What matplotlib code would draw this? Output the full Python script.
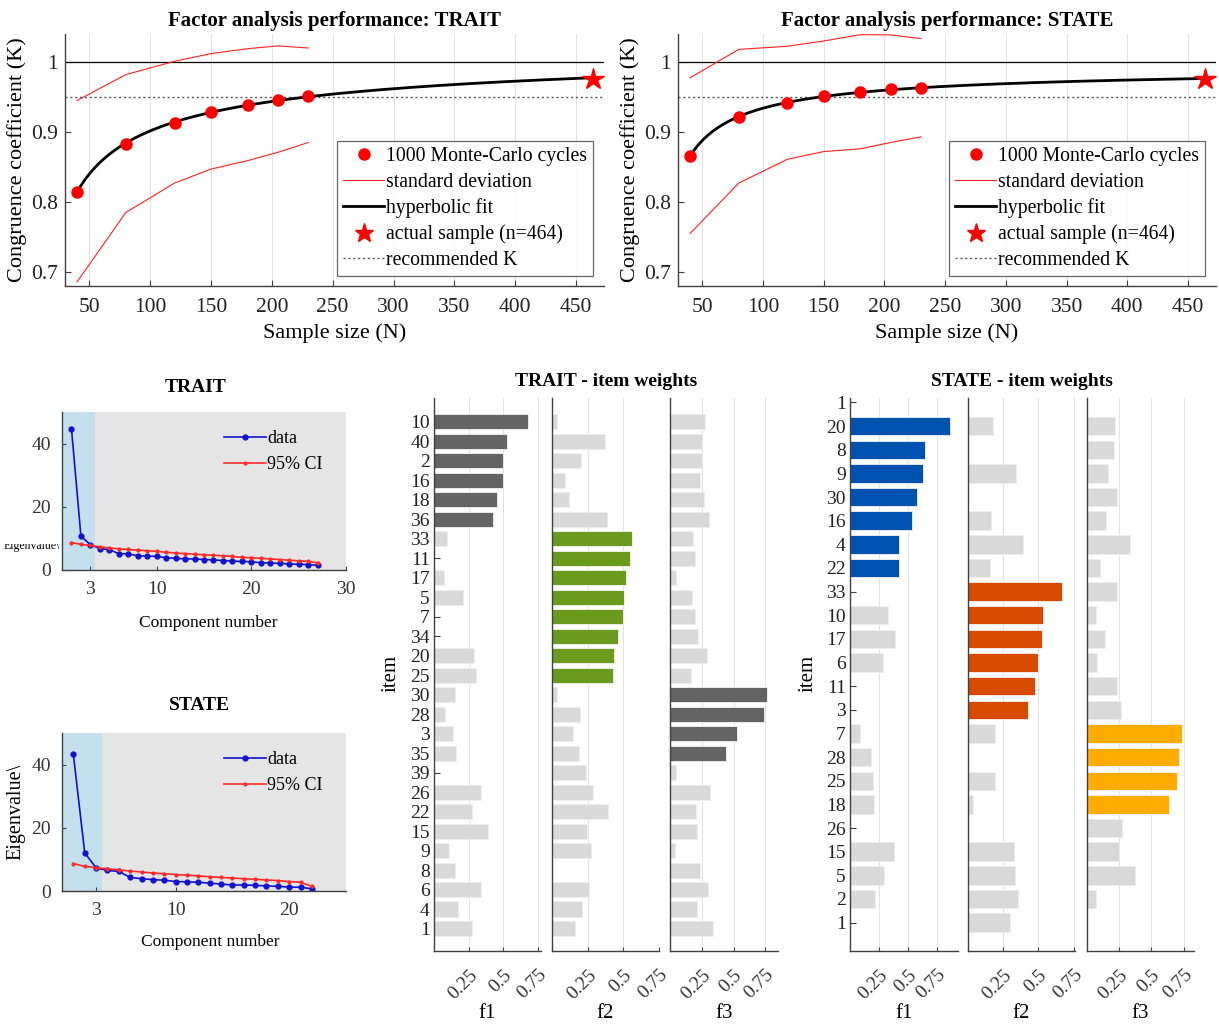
import numpy as np
import matplotlib
matplotlib.use('Agg')
import matplotlib.pyplot as plt
from matplotlib.lines import Line2D
from matplotlib.transforms import Bbox, TransformedBbox

plt.rcParams['font.family'] = ['Liberation Serif', 'DejaVu Serif']

# ---- Monte-Carlo performance data ----
mc_n = [40, 80, 120, 150, 180, 205, 230]
actual_n = 464

trait_k = [0.815, 0.883, 0.913, 0.929, 0.938, 0.946, 0.952]
trait_sd_hi = [0.945, 0.982, 1.001, 1.012, 1.019, 1.023, 1.020]
trait_sd_lo = [0.686, 0.785, 0.827, 0.847, 0.859, 0.871, 0.885]
trait_actual_k = 0.976

state_k = [0.866, 0.922, 0.941, 0.951, 0.9575, 0.961, 0.963]
state_sd_hi = [0.9775, 1.018, 1.0225, 1.030, 1.039, 1.0387, 1.0335]
state_sd_lo = [0.755, 0.827, 0.861, 0.872, 0.876, 0.885, 0.893]
state_actual_k = 0.976

recommended_k = 0.95

# ---- scree data ----
trait_eig = [44.7, 10.7, 8.0, 6.8, 6.4, 5.2, 5.1, 4.5, 4.4, 4.3, 3.9, 3.7, 3.5, 3.5,
             3.3, 3.2, 3.0, 2.8, 2.7, 2.6, 2.3, 2.2, 2.1, 1.9, 1.8, 1.7, 1.5]
trait_ci = [8.7, 8.1, 7.8, 7.3, 7.0, 6.7, 6.5, 6.3, 6.1, 5.9, 5.6, 5.4, 5.2, 5.0,
            4.8, 4.7, 4.5, 4.3, 4.0, 3.9, 3.7, 3.5, 3.3, 3.1, 2.9, 2.7, 2.3]
state_eig = [43.2, 12.1, 7.3, 6.5, 6.2, 4.3, 3.9, 3.6, 3.4, 3.0, 2.9, 2.75, 2.5, 2.2,
             1.9, 1.9, 1.8, 1.6, 1.5, 1.2, 1.2, 0.7]
state_ci = [8.7, 7.8, 7.4, 7.0, 6.7, 6.3, 6.0, 5.7, 5.5, 5.2, 5.0, 4.8, 4.5, 4.3,
            4.1, 3.9, 3.7, 3.5, 3.3, 3.0, 2.75, 1.5]

# ---- item weights ----
trait_items = ['10', '40', '2', '16', '18', '36', '33', '11', '17', '5', '7', '34', '20', '25',
               '30', '28', '3', '35', '39', '26', '22', '15', '9', '8', '6', '4', '1']
trait_f1 = [0.68, 0.524, 0.50, 0.50, 0.45, 0.425, 0.094, 0, 0.075, 0.21, 0, 0, 0.29, 0.30,
            0.15, 0.077, 0.135, 0.16, 0, 0.34, 0.27, 0.385, 0.11, 0.154, 0.34, 0.17, 0.275]
trait_f2 = [0.037, 0.37, 0.20, 0.092, 0.117, 0.383, 0.56, 0.545, 0.516, 0.506, 0.496, 0.465, 0.437, 0.43,
            0.035, 0.193, 0.148, 0.186, 0.236, 0.289, 0.391, 0.242, 0.27, 0, 0.256, 0.213, 0.162]
trait_f3 = [0.275, 0.25, 0.25, 0.235, 0.265, 0.307, 0.18, 0.2, 0.05, 0.177, 0.193, 0.217, 0.288, 0.167,
            0.762, 0.738, 0.526, 0.442, 0.048, 0.312, 0.206, 0.214, 0.037, 0.235, 0.30, 0.214, 0.336]
trait_factor = [1] * 6 + [2] * 8 + [3] * 4 + [0] * 9

state_items = ['20', '8', '9', '30', '16', '4', '22', '33', '10', '17', '6', '11', '3',
               '7', '28', '25', '18', '26', '15', '5', '2', '1']
state_f1 = [0.857, 0.645, 0.63, 0.58, 0.53, 0.424, 0.42, 0, 0.325, 0.39, 0.285, 0, 0,
            0.084, 0.177, 0.2, 0.21, 0, 0.38, 0.297, 0.215, 0]
state_f2 = [0.175, 0, 0.339, 0, 0.166, 0.39, 0.159, 0.67, 0.533, 0.526, 0.495, 0.474, 0.424,
            0.192, 0, 0.19, 0.033, 0, 0.33, 0.334, 0.355, 0.30]
state_f3 = [0.215, 0.207, 0.166, 0.236, 0.148, 0.332, 0.10, 0.233, 0.067, 0.14, 0.08, 0.236, 0.262,
            0.738, 0.71, 0.702, 0.635, 0.275, 0.249, 0.376, 0.07, 0]
state_factor = [1] * 7 + [2] * 6 + [3] * 4 + [0] * 5

W, H = 1219, 1025
fig = plt.figure(figsize=(W / 100, H / 100), dpi=100)
AX_COL = '#404040'
LIGHT = '#d9d9d9'


def px_axes(l, t, r, b):
    return fig.add_axes([l / W, 1 - b / H, (r - l) / W, (b - t) / H])


def fig_text(x, y, s, **kw):
    return fig.text(x / W, 1 - y / H, s, **kw)


def style_spines(ax):
    for s in ['top', 'right']:
        ax.spines[s].set_visible(False)
    for s in ['left', 'bottom']:
        ax.spines[s].set_color(AX_COL)
        ax.spines[s].set_linewidth(1.0)


def perf_panel(ax, k, hi, lo, k_act, title):
    n = np.array(mc_n, float)
    # hyperbolic-type fit through the simulated points and the actual sample
    xs = 1 / np.sqrt(np.append(n, actual_n))
    coef = np.polyfit(xs, np.append(k, k_act), 2)
    nn = np.linspace(mc_n[0], actual_n, 300)
    fit = np.polyval(coef, 1 / np.sqrt(nn))

    ax.axhline(1, color='k', lw=0.9)
    ax.axhline(recommended_k, color='#555555', lw=1.0, ls=(0, (1.5, 2)))
    ax.plot(n, hi, color='#ff2020', lw=0.8)
    ax.plot(n, lo, color='#ff2020', lw=0.8)
    ax.plot(nn, fit, color='k', lw=2)
    ax.plot(n, k, 'o', color='#ff0000', ms=8, ls='none')
    ax.plot([actual_n], [k_act], '*', color='#ff0000', ms=16, ls='none')

    ax.set_xlim(30, 473)
    ax.set_ylim(0.68, 1.04)
    ax.set_xticks(np.arange(50, 451, 50))
    ax.set_yticks([0.7, 0.8, 0.9, 1.0])
    ax.set_yticklabels(['0.7', '0.8', '0.9', '1'])
    ax.grid(axis='x', color='#e2e2e2', lw=0.8)
    ax.set_axisbelow(True)
    style_spines(ax)
    ax.tick_params(direction='in', labelsize=15.5, length=4, color=AX_COL, labelcolor='#222222')
    ax.tick_params(axis='x', pad=9)
    ax.tick_params(axis='y', pad=5)
    ax.set_title(title, fontsize=15, fontweight='bold', pad=6)
    ax.set_xlabel('Sample size (N)', fontsize=16, labelpad=4)
    ax.set_ylabel('Congruence coefficient (K)', fontsize=16, labelpad=3)

    handles = [
        Line2D([], [], marker='o', color='#ff0000', ls='none', ms=8),
        Line2D([], [], color='#ff2020', lw=0.8),
        Line2D([], [], color='k', lw=2),
        Line2D([], [], marker='*', color='#ff0000', ls='none', ms=14),
        Line2D([], [], color='#555555', lw=1.0, ls=(0, (1.5, 2))),
    ]
    labels = ['1000 Monte-Carlo cycles', 'standard deviation', 'hyperbolic fit',
              'actual sample (n=464)', 'recommended K']
    leg = ax.legend(handles, labels, loc='lower right', bbox_to_anchor=(0.98, 0.04),
                    fontsize=14.2, frameon=True, fancybox=False, edgecolor=AX_COL,
                    handlelength=2.1, handletextpad=0.1, labelspacing=0.33,
                    borderpad=0.3, borderaxespad=0)
    leg.get_frame().set_linewidth(0.9)


ax_tl = px_axes(65, 34, 604, 286)
perf_panel(ax_tl, trait_k, trait_sd_hi, trait_sd_lo, trait_actual_k,
           'Factor analysis performance: TRAIT')
ax_tr = px_axes(678, 34, 1216, 286)
perf_panel(ax_tr, state_k, state_sd_hi, state_sd_lo, state_actual_k,
           'Factor analysis performance: STATE')


def scree_panel(ax, eig, ci, xmax, xticks):
    comp = np.arange(1, len(eig) + 1)
    ax.set_facecolor('#e5e5e5')
    ax.axvspan(0, 3.5, color='#c4dfee', lw=0)
    ax.plot(comp, eig, '-o', color='#1212cc', ms=3.5, lw=1.2, label='data')
    ax.plot(comp, ci, '-o', color='#ff2a2a', ms=2, lw=1.2, label='95% CI')
    ax.set_xlim(0, xmax)
    ax.set_ylim(0, 50)
    ax.set_xticks(xticks)
    ax.set_yticks([0, 20, 40])
    style_spines(ax)
    ax.tick_params(direction='in', labelsize=14, length=3, color=AX_COL, labelcolor='#333333', pad=8)
    ax.legend(loc='upper left', bbox_to_anchor=(0.545, 0.93), frameon=False, fontsize=13,
              handlelength=2.3, handletextpad=0.1, labelspacing=0.5, borderaxespad=0)


ax_s1 = px_axes(62, 412, 346, 570)
scree_panel(ax_s1, trait_eig, trait_ci, 30, [3, 10, 20, 30])
ax_s2 = px_axes(62, 733, 346, 891)
scree_panel(ax_s2, state_eig, state_ci, 25, [3, 10, 20])
ax_s2.set_ylabel('Eigenvalue\\', fontsize=14.5, labelpad=4)

fig_text(196, 387, 'TRAIT', fontsize=14, fontweight='bold', ha='center', va='center')
fig_text(199, 706, 'STATE', fontsize=14, fontweight='bold', ha='center', va='center')
fig_text(208, 623, 'Component number', fontsize=12.5, ha='center', va='center')
fig_text(210, 942, 'Component number', fontsize=12.5, ha='center', va='center')
# label of the TRAIT scree plot, cut off at its top as in the source figure
t = fig_text(4, 546, 'Eigenvalue\\', fontsize=8.5, ha='left', va='center')
t.set_clip_box(TransformedBbox(Bbox.from_extents(0, 1 - 560 / H, 80 / W, 1 - 543.5 / H), fig.transFigure))
t.set_clip_on(True)


def weight_panels(boxes, xlims, vals, factor, colors, tick_pos, tick_labels, ylim):
    axes = []
    for j, (box, xl, v) in enumerate(zip(boxes, xlims, vals)):
        ax = px_axes(*box)
        v = np.array(v, float)
        pos = np.arange(1, len(v) + 1)
        fac = np.array(factor)
        sel = fac == j + 1
        light = (~sel) & (v > 0)
        ax.barh(pos[light], v[light], height=0.78, color=LIGHT, edgecolor='#eeeeee', lw=0.6)
        ax.barh(pos[sel], v[sel], height=0.78, color=colors[j], edgecolor='#f2f2f2', lw=0.6)
        ax.set_xlim(0, xl)
        ax.set_ylim(*ylim)
        ax.set_xticks([0.25, 0.5, 0.75])
        ax.set_xticklabels(['0.25', '0.5', '0.75'], rotation=45, ha='right',
                           rotation_mode='anchor', fontsize=14, color='#333333')
        ax.grid(axis='x', color='#e2e2e2', lw=0.8)
        ax.set_axisbelow(True)
        style_spines(ax)
        ax.tick_params(axis='x', direction='in', length=3, color=AX_COL, pad=11)
        if j == 0:
            ax.set_yticks(tick_pos)
            ax.set_yticklabels(tick_labels, fontsize=14, color='#222222')
            ax.tick_params(axis='y', direction='in', length=4, color=AX_COL, pad=3)
        else:
            ax.set_yticks([])
        ax.set_xlabel('f%d' % (j + 1), fontsize=15, labelpad=1)
        axes.append(ax)
    return axes


trait_boxes = [(434, 398, 541, 951), (552, 398, 659, 951), (670, 398, 778, 951)]
weight_panels(trait_boxes, [0.77, 0.66, 0.85], [trait_f1, trait_f2, trait_f3], trait_factor,
              ['#646464', '#6b9b1e', '#646464'],
              np.arange(1, len(trait_items) + 1), trait_items, (28.15, -0.22))

state_boxes = [(850, 398, 958, 951), (968, 398, 1075, 951), (1087, 398, 1194, 951)]
weight_panels(state_boxes, [0.93, 0.76, 0.83], [state_f1, state_f2, state_f3], state_factor,
              ['#0052b0', '#d64b00', '#ffab00'],
              np.arange(0, len(state_items) + 1), ['1'] + state_items, (23.2, -0.19))

fig_text(606, 381, 'TRAIT - item weights', fontsize=14, fontweight='bold', ha='center', va='center')
fig_text(1022, 381, 'STATE - item weights', fontsize=14, fontweight='bold', ha='center', va='center')
fig_text(391, 673, 'item', fontsize=15, rotation=90, ha='center', va='center')
fig_text(808, 673, 'item', fontsize=15, rotation=90, ha='center', va='center')

fig.savefig('out.png', dpi=100)
